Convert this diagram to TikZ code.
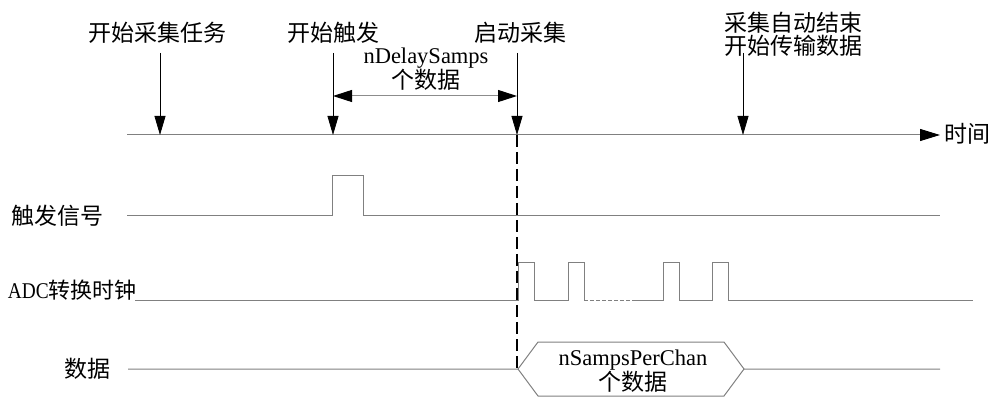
\documentclass[tikz,border=0pt]{standalone}
\usepackage{graphicx}
\usepackage{fontspec}
\setmainfont{Liberation Serif}
\newfontfamily\cjk{Noto Sans CJK SC}
\usetikzlibrary{arrows.meta}

\begin{document}
\begin{tikzpicture}[x=1pt,y=-1pt,
  every node/.style={inner sep=0pt, font=\fontsize{22.5}{23}\selectfont},
  cjklabel/.style={font=\fontsize{23}{23}\selectfont\cjk},
  sig/.style={draw=black!50, line width=1pt},
  evtarrow/.style={draw=black, line width=0.8pt, -{Triangle[length=19pt,width=11pt]}},
  spanarrow/.style={draw=black!45, line width=1pt,
    {Triangle[length=19pt,width=12pt,color=black]}-{Triangle[length=19pt,width=12pt,color=black]}}]
\useasboundingbox (0,0) rectangle (994,398);
% labels on top
\node [cjklabel] (task) at (157,33) {开始采集任务};
\node [cjklabel] (trig) at (333,33) {开始触发};
\node [cjklabel] (start) at (520,33) {启动采集};
\node [cjklabel, align=center] (done) at (793,34) {采集自动结束\\开始传输数据};
\node [align=center] (delay) at (426,69) {nDelaySamps\\{\cjk\fontsize{23}{23}\selectfont 个数据}};
% time axis
\coordinate (t0) at (127,135);
\coordinate (t1) at (940,135);
\draw [sig, -{Triangle[length=20pt,width=12pt,color=black]}] (t0) -- (t1);
\node [cjklabel, anchor=west] (time) at (944,134) {时间};
% event arrows
\coordinate (e1) at (160,53);
\coordinate (p1) at (160,135);
\coordinate (e2) at (333,53);
\coordinate (p2) at (333,135);
\coordinate (e3) at (517,53);
\coordinate (p3) at (517,135);
\coordinate (e4) at (743,53);
\coordinate (p4) at (743,135);
\draw [evtarrow] (e1) -- (p1);
\draw [evtarrow] (e2) -- (p2);
\draw [evtarrow] (e3) -- (p3);
\draw [evtarrow] (e4) -- (p4);
\coordinate (d1) at (333,96);
\coordinate (d2) at (517,96);
\draw [spanarrow] (d1) -- (d2);
% start line
\coordinate (s0) at (517,369);
\draw [black, line width=1.8pt, dash pattern=on 12pt off 5pt] (p3) -- (s0);
% signal names
\node [cjklabel] (trigsig) at (58,216) {触发信号};
\node [anchor=east] (adcclk) at (137,290) {\scalebox{0.86}[1]{ADC}{\cjk\fontsize{22}{23}\selectfont 转换时钟}};
\node [cjklabel] (datasig) at (87,369) {数据};
% trigger signal
\draw [sig] (127,216) -- (332,216) -- (332,176) -- (363,176) -- (363,216) -- (940,216);
% adc clock
\foreach \x in {518,568,663,712}
  \draw [sig] (\x,301) -- (\x,263) -- (\x+16,263) -- (\x+16,301);
\draw [sig] (135,301) -- (518,301);
\draw [sig] (534,301) -- (568,301);
\draw [sig, dash pattern=on 4pt off 2pt] (584,301) -- (632,301);
\draw [sig] (632,301) -- (663,301);
\draw [sig] (679,301) -- (712,301);
\draw [sig] (728,301) -- (973,301);
% data
\draw [sig] (128,369) -- (518,369) -- (538,342) -- (724,342) -- (744,369) -- (940,369);
\draw [sig] (518,369) -- (538,396) -- (724,396) -- (744,369);
\node [align=center] (samps) at (633,371) {nSampsPerChan\\{\cjk\fontsize{23}{23}\selectfont 个数据}};
\end{tikzpicture}
\end{document}
